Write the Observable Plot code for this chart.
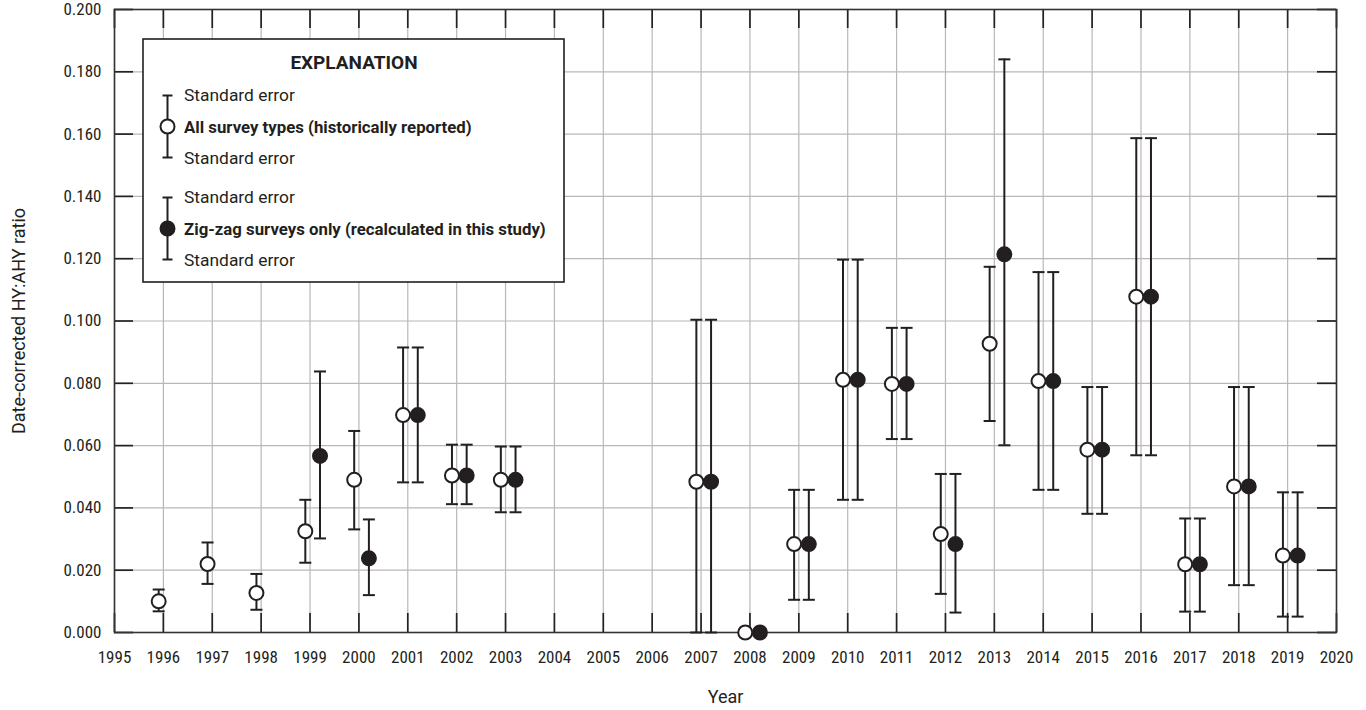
<!DOCTYPE html>
<html><head><meta charset="utf-8">
<script src="https://cdn.jsdelivr.net/npm/d3@7"></script>
<script src="https://cdn.jsdelivr.net/npm/@observablehq/plot@0.6"></script>
<style>
html,body{margin:0;padding:0;background:#fff;}
#wrap{position:relative;width:1366px;height:710px;}
#legend{position:absolute;left:0;top:0;pointer-events:none;}
</style></head>
<body><div id="wrap"></div>
<script>
// ---- data: all survey types (historically reported)
const histYears = [1996,1997,1998,1999,2000,2001,2002,2003,2007,2008,2009,2010,2011,2012,2013,2014,2015,2016,2017,2018,2019];
const histValue = [0.0100,0.0220,0.0127,0.0325,0.0490,0.0698,0.0504,0.0490,0.0484,0.0000,0.0284,0.0811,0.0798,0.0316,0.0927,0.0807,0.0587,0.1078,0.0219,0.0469,0.0247];
const histLow   = [0.0068,0.0156,0.0073,0.0224,0.0331,0.0482,0.0412,0.0386,0.0000,0.0000,0.0105,0.0426,0.0621,0.0124,0.0679,0.0458,0.0381,0.0569,0.0067,0.0152,0.0051];
const histHigh  = [0.0138,0.0289,0.0188,0.0426,0.0647,0.0915,0.0603,0.0597,0.1004,0.0000,0.0458,0.1197,0.0978,0.0509,0.1174,0.1157,0.0788,0.1587,0.0366,0.0788,0.0450];
// ---- data: zig-zag surveys only (recalculated in this study)
const zigYears = [1999,2000,2001,2002,2003,2007,2008,2009,2010,2011,2012,2013,2014,2015,2016,2017,2018,2019];
const zigValue = [0.0567,0.0238,0.0698,0.0504,0.0490,0.0484,0.0000,0.0284,0.0811,0.0798,0.0284,0.1214,0.0807,0.0587,0.1078,0.0219,0.0469,0.0247];
const zigLow   = [0.0302,0.0120,0.0482,0.0412,0.0386,0.0000,0.0000,0.0105,0.0426,0.0621,0.0064,0.0601,0.0458,0.0381,0.0569,0.0067,0.0152,0.0051];
const zigHigh  = [0.0838,0.0363,0.0915,0.0603,0.0597,0.1004,0.0000,0.0458,0.1197,0.0978,0.0509,0.1840,0.1157,0.0788,0.1587,0.0366,0.0788,0.0450];
// ---- ticks
const xTicks = [1995,1996,1997,1998,1999,2000,2001,2002,2003,2004,2005,2006,2007,2008,2009,2010,2011,2012,2013,2014,2015,2016,2017,2018,2019,2020];
const yTicks = [0,0.02,0.04,0.06,0.08,0.10,0.12,0.14,0.16,0.18,0.20];
const xLabel = "Year";
const yLabel = "Date-corrected HY:AHY ratio";
const legendTitle = "EXPLANATION";
const seLabel = "Standard error";
const histName = "All survey types (historically reported)";
const zigName = "Zig-zag surveys only (recalculated in this study)";

const hist = histYears.map((year,i)=>({year, v:histValue[i], lo:histLow[i], hi:histHigh[i]}));
const zig = zigYears.map((year,i)=>({year, v:zigValue[i], lo:zigLow[i], hi:zigHigh[i]}));

const ink = "#231f20";
const FONT = "Roboto, 'Liberation Sans', sans-serif";
const TICKFONT = "'Roboto Condensed', Roboto, sans-serif";
const capSymbol = {draw(ctx, size){ const r = Math.sqrt(size/Math.PI); ctx.moveTo(-r,0); ctx.lineTo(r,0); }};

const W = 1366, H = 710, mT = 9, mB = 78, mL = 114, mR = 30;
const frameW = W - mL - mR, frameH = H - mT - mB;
const TL = 19; // inward tick length (px)

function series(data, dx){
  return [
    Plot.ruleX(data, {x:"year", y1:"lo", y2:"hi", dx, stroke:ink, strokeWidth:2}),
    Plot.dot(data, {x:"year", y:"lo", dx, r:6, symbol:capSymbol, fill:"none", stroke:ink, strokeWidth:2}),
    Plot.dot(data, {x:"year", y:"hi", dx, r:6, symbol:capSymbol, fill:"none", stroke:ink, strokeWidth:2})
  ];
}
const tk = {stroke:"#222", strokeWidth:1.7};

const chart = Plot.plot({
  width:W, height:H,
  marginTop:mT, marginBottom:mB, marginLeft:mL, marginRight:mR,
  style:{fontFamily:FONT, fontSize:"15px", background:"#fff", overflow:"visible"},
  x:{domain:[1995,2020]},
  y:{domain:[0,0.2]},
  marks:[
    Plot.gridX(xTicks, {stroke:"#b8b8b8", strokeOpacity:1, strokeWidth:1.2}),
    Plot.gridY(yTicks, {stroke:"#b8b8b8", strokeOpacity:1, strokeWidth:1.2}),
    Plot.tickX(xTicks, {x:d=>d, insetTop:frameH-TL, ...tk}),
    Plot.tickX(xTicks, {x:d=>d, insetBottom:frameH-TL, ...tk}),
    Plot.tickY(yTicks, {y:d=>d, insetRight:frameW-TL, ...tk}),
    Plot.tickY(yTicks, {y:d=>d, insetLeft:frameW-TL, ...tk}),
    Plot.axisX(xTicks, {anchor:"bottom", tickSize:0, tickPadding:18, tickFormat:d=>String(d), fill:ink,
      fontFamily:TICKFONT, fontSize:17,
      label:xLabel, labelAnchor:"center", labelArrow:"none", labelOffset:70}),
    Plot.axisY(yTicks, {anchor:"left", tickSize:0, tickPadding:13, tickFormat:d3.format(".3f"), fill:ink,
      fontFamily:TICKFONT, fontSize:17,
      label:yLabel, labelAnchor:"center", labelArrow:"none", labelOffset:102}),
    Plot.frame({stroke:"#333", strokeWidth:1.6}),
    ...series(hist, -4.7),
    ...series(zig, 10),
    Plot.dot(hist, {x:"year", y:"v", dx:-4.7, r:7, fill:"#fff", stroke:ink, strokeWidth:2}),
    Plot.dot(zig, {x:"year", y:"v", dx:10, r:7, fill:ink, stroke:ink, strokeWidth:2})
  ]
});
document.getElementById("wrap").appendChild(chart);
// axis title font
d3.select(chart).selectAll("g[aria-label='x-axis label'] text, g[aria-label='y-axis label'] text")
  .attr("font-size", 18).attr("font-family", FONT).attr("fill", ink);

// ---- legend overlay
const svg = d3.select("#wrap").append("svg").attr("id","legend").attr("width",W).attr("height",H)
  .style("font-family", FONT);
svg.append("rect").attr("x",143).attr("y",39).attr("width",421).attr("height",243)
  .attr("fill","#fff").attr("stroke",ink).attr("stroke-width",1.6);
svg.append("text").attr("x",354).attr("y",62).attr("text-anchor","middle").attr("dominant-baseline","central")
  .attr("font-size",19).attr("font-weight","bold").attr("fill",ink).text(legendTitle);
function legendEntry(cy, filled, name){
  const x = 167.5, top = cy - 31, bot = cy + 31;
  svg.append("line").attr("x1",x).attr("x2",x).attr("y1",top).attr("y2",bot).attr("stroke",ink).attr("stroke-width",2);
  svg.append("line").attr("x1",x-5).attr("x2",x+5).attr("y1",top).attr("y2",top).attr("stroke",ink).attr("stroke-width",2);
  svg.append("line").attr("x1",x-5).attr("x2",x+5).attr("y1",bot).attr("y2",bot).attr("stroke",ink).attr("stroke-width",2);
  svg.append("circle").attr("cx",x).attr("cy",cy).attr("r",7).attr("fill",filled?ink:"#fff").attr("stroke",ink).attr("stroke-width",2);
  const t = (y, s, bold, fs) => svg.append("text").attr("x",184).attr("y",y).attr("dominant-baseline","central")
    .attr("font-size",fs).attr("font-weight",bold?"bold":"normal").attr("fill",ink).text(s);
  t(cy-32, seLabel, false, 17.4);
  t(cy, name, true, 16.8);
  t(cy+31, seLabel, false, 17.4);
}
legendEntry(126.5, false, histName);
legendEntry(228.5, true, zigName);
</script></body></html>
